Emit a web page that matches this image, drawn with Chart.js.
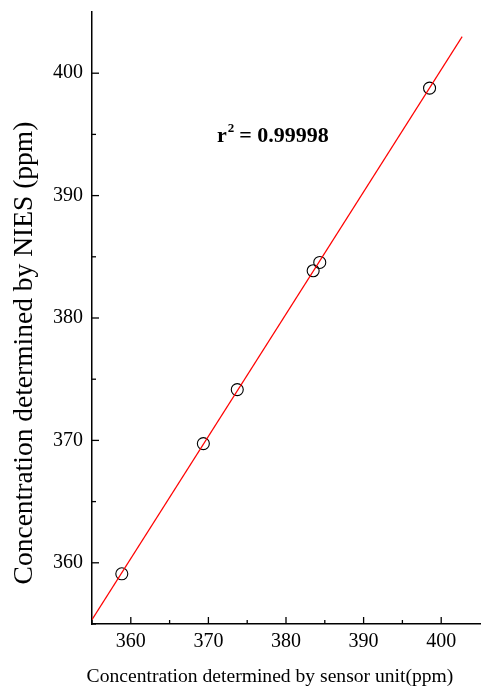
<!DOCTYPE html>
<html>
<head>
<meta charset="utf-8">
<script src="https://cdn.jsdelivr.net/npm/chart.js@4.4.0/dist/chart.umd.min.js"></script>
<style>
	html, body { margin: 0; padding: 0; background: #fff; }
	#wrap { width: 482px; height: 695px; }
</style>
</head>
<body>
<div id="wrap"><canvas id="c" width="482" height="695"></canvas></div>
<script>
"use strict";

// Data

var sensorValues = [358.84, 369.35, 373.72, 383.5, 384.35, 398.5],
	niesValues = [359.1, 369.74, 374.15, 383.86, 384.54, 398.78],
	axisRange = [355, 405],
	fitRange = [355, 402.7],
	xTitle = "Concentration determined by sensor unit(ppm)",
	yTitle = "Concentration determined by NIES (ppm)",
	r2Label = "0.99998";

// least squares fit of the points, drawn as the red line
function fitLine(xs, ys) {
	var n = xs.length, sx = 0, sy = 0, sxx = 0, sxy = 0;

	for (var i = 0; i < n; i++) {
		sx += xs[i]; sy += ys[i];
		sxx += xs[i] * xs[i]; sxy += xs[i] * ys[i];
	}
	var b = (n * sxy - sx * sy) / (n * sxx - sx * sx),
		a = (sy - b * sx) / n;
	return fitRange.map(function (x) { return { x: x, y: a + b * x }; });
}

var points = sensorValues.map(function (x, i) { return { x: x, y: niesValues[i] }; });

// inward tick marks, major at tens and minor at fives
var inwardTicks = {
	id: "inwardTicks",
	afterDraw: function (chart) {
		var ctx = chart.ctx, xs = chart.scales.x, ys = chart.scales.y, v, p, len;

		ctx.save();
		ctx.strokeStyle = "#000";
		ctx.lineWidth = 1.3;
		for (v = axisRange[0]; v < axisRange[1]; v += 5) {
			len = v % 10 === 0 ? 7 : 4;
			p = xs.getPixelForValue(v);
			ctx.beginPath();
			ctx.moveTo(p, xs.top);
			ctx.lineTo(p, xs.top - len);
			ctx.stroke();
			p = ys.getPixelForValue(v);
			ctx.beginPath();
			ctx.moveTo(ys.right, p);
			ctx.lineTo(ys.right + len, p);
			ctx.stroke();
		}
		ctx.restore();
	}
};

// axis titles (placed off-centre like the original) and the r^2 label
var texts = {
	id: "texts",
	afterDraw: function (chart) {
		var ctx = chart.ctx,
			x = chart.scales.x.getPixelForValue(371.1),
			y = chart.scales.y.getPixelForValue(394.4);

		ctx.save();
		ctx.fillStyle = "#000";

		ctx.textAlign = "center";
		ctx.textBaseline = "middle";
		ctx.font = "19.6px 'Liberation Serif'";
		ctx.fillText(xTitle, 270, 677);

		ctx.save();
		ctx.translate(32, 353);
		ctx.rotate(-Math.PI / 2);
		ctx.textBaseline = "alphabetic";
		ctx.font = "27.5px 'Liberation Serif'";
		ctx.fillText(yTitle, 0, 0);
		ctx.restore();

		ctx.textAlign = "left";
		ctx.textBaseline = "alphabetic";
		ctx.font = "bold 22px 'Liberation Serif'";
		ctx.fillText("r", x, y);
		var w = ctx.measureText("r").width;
		ctx.font = "bold 13px 'Liberation Serif'";
		ctx.fillText("2", x + w + 1, y - 10);
		ctx.font = "bold 22px 'Liberation Serif'";
		ctx.fillText(" = " + r2Label, x + w + 7, y);
		ctx.restore();
	}
};

function tickLabel(v) {
	return v % 10 === 0 ? String(v) : "";
}

function noScalePadding(s) {
	s.paddingTop = 0; s.paddingBottom = 0;
	s.paddingLeft = 0; s.paddingRight = 0;
}

new Chart(document.getElementById("c"), {
	type: "scatter",
	data: {
		datasets: [{
			type: "line",
			data: fitLine(sensorValues, niesValues),
			borderColor: "#ff0000",
			borderWidth: 1.2,
			pointRadius: 0,
			fill: false
		}, {
			data: points,
			pointStyle: "circle",
			pointRadius: 6,
			pointBorderColor: "#000",
			pointBorderWidth: 1.1,
			pointBackgroundColor: "rgba(0,0,0,0)"
		}]
	},
	options: {
		responsive: false,
		animation: false,
		layout: { autoPadding: false, padding: { top: 12, right: 2, left: 0, bottom: 0 } },
		plugins: { legend: { display: false }, tooltip: { enabled: false } },
		scales: {
			x: {
				type: "linear",
				min: axisRange[0],
				max: axisRange[1],
				grid: { display: false, drawTicks: false },
				border: { display: true, color: "#000", width: 1.5 },
				ticks: {
					stepSize: 5, autoSkip: false, maxRotation: 0, padding: 6,
					color: "#000", font: { family: "Liberation Serif", size: 20 },
					callback: tickLabel
				},
				afterFit: function (s) { s.height = 71; noScalePadding(s); }
			},
			y: {
				type: "linear",
				min: axisRange[0],
				max: axisRange[1],
				grid: { display: false, drawTicks: false },
				border: { display: true, color: "#000", width: 1.5 },
				ticks: {
					stepSize: 5, autoSkip: false, padding: 9,
					color: "#000", font: { family: "Liberation Serif", size: 20 },
					callback: tickLabel
				},
				afterFit: function (s) { s.width = 92; noScalePadding(s); }
			}
		}
	},
	plugins: [inwardTicks, texts]
});
</script>
</body>
</html>
